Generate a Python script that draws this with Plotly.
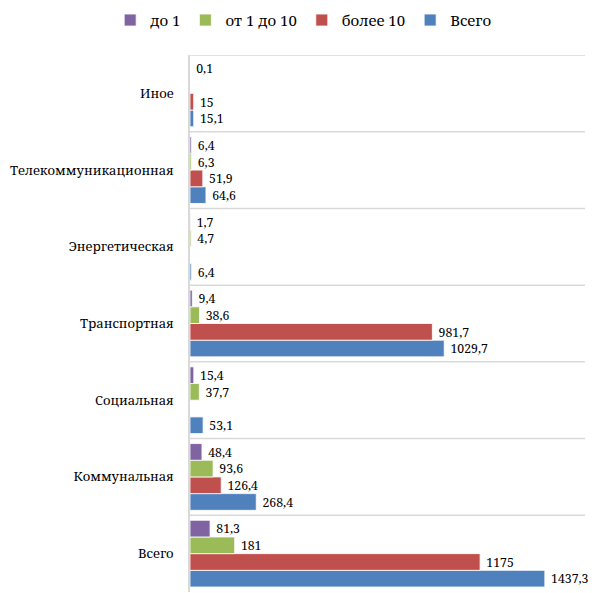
import plotly.graph_objects as go

categories = ["Всего", "Коммунальная", "Социальная", "Транспортная",
              "Энергетическая", "Телекоммуникационная", "Иное"]

up_to_1 = [81.3, 48.4, 15.4, 9.4, 1.7, 6.4, 0.1]
from_1_to_10 = [181, 93.6, 37.7, 38.6, 4.7, 6.3, None]
over_10 = [1175, 126.4, None, 981.7, None, 51.9, 15]
total = [1437.3, 268.4, 53.1, 1029.7, 6.4, 64.6, 15.1]

series = [
    ("Всего", total, "#4F81BD"),
    ("более 10", over_10, "#C0504D"),
    ("от 1 до 10", from_1_to_10, "#9BBB59"),
    ("до 1", up_to_1, "#8064A2"),
]

FONT = "Noto Serif"


def fmt(v):
    if v is None:
        return ""
    return " " + f"{v:g}".replace(".", ",")


fig = go.Figure()
for name, vals, color in series:
    fig.add_trace(go.Bar(
        y=categories, x=vals, name=name, orientation="h",
        marker=dict(color=color, line=dict(color="white", width=0.8)),
        text=[fmt(v) for v in vals],
        textposition="outside",
        textfont=dict(family=FONT, size=14, color="#000"),
        cliponaxis=False,
    ))

# category separators (Excel-style gridlines between groups)
shapes = [
    dict(type="line", xref="paper", x0=0, x1=1, yref="y", y0=i + 0.5, y1=i + 0.5,
         line=dict(color="#D9D9D9", width=1.5))
    for i in range(len(categories))
]

# page body has an 8px margin, so the figure is shrunk and shifted to match
fig.update_layout(
    barmode="group",
    bargap=0.13,
    bargroupgap=0,
    width=588, height=585,
    margin=dict(l=182, r=11, t=47, b=1, autoexpand=False),
    paper_bgcolor="white", plot_bgcolor="white",
    font=dict(family=FONT, size=14, color="#000"),
    shapes=shapes,
    showlegend=True,
    legend=dict(orientation="h", traceorder="reversed",
                xref="container", yref="container",
                x=0.502, xanchor="center", y=0.979, yanchor="middle",
                font=dict(family=FONT, size=15)),
    xaxis=dict(range=[0, 1600], visible=False, showgrid=False, automargin=False),
    yaxis=dict(type="category", categoryorder="array", categoryarray=categories,
               range=[-0.5, 6.5], showline=True, linecolor="#D9D9D9", linewidth=1.5,
               showgrid=False, ticks="", ticklabelstandoff=12, automargin=False,
               tickfont=dict(family=FONT, size=13)),
)

fig.write_html("out.html")
